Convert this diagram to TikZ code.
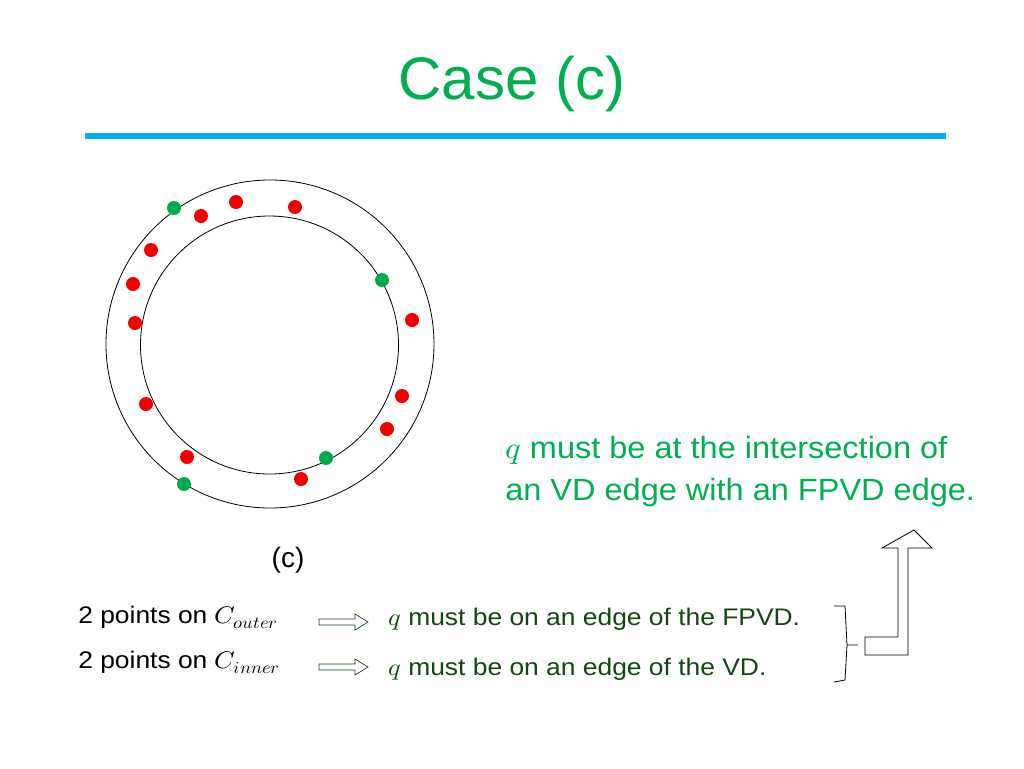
\documentclass[tikz,border=0pt]{standalone}
\usepackage{fontspec}
\setmainfont{Liberation Sans}
\usepackage{unicode-math}
\setmathfont{Latin Modern Math}
\definecolor{tgreen}{RGB}{0,176,80}
\definecolor{tblue}{RGB}{0,176,240}
\definecolor{dgreen}{RGB}{20,70,20}
\definecolor{rdot}{RGB}{240,0,0}
\definecolor{gdot}{RGB}{0,170,80}
\tikzset{rd/.style={circle,fill=rdot,inner sep=0,minimum size=10.5pt},
gd/.style={circle,fill=gdot,inner sep=0,minimum size=10.5pt},
lbl/.style={anchor=base west,inner sep=0,xscale=1.1,font=\fontsize{18}{20}\selectfont},
glbl/.style={anchor=base west,inner sep=0,text=tgreen,xscale=1.06,font=\fontsize{23}{26}\selectfont},
harrow/.style={draw=dgreen,line width=0.5pt}}
\begin{document}
\begin{tikzpicture}[x=0.75pt,y=-0.75pt]
\useasboundingbox (0,0) rectangle (1024,768);
\node[text=tgreen,font=\fontsize{45}{50}\selectfont] (title) at (512,84) {Case (c)};
\draw[tblue,line width=4pt] (85,136) coordinate (l1) -- (946,136) coordinate (l2);
\draw[line width=0.6pt] (270,344) circle[radius=164];
\draw[line width=0.6pt] (269.5,345) circle[radius=129];
\foreach \p [count=\i] in {(236,202),(295,207),(201,216),(151,250),(133,284),(135,323),(412,320),(402,396),(146,404),(387,429),(187,457),(301,479)}
  \node[rd] (r\i) at \p {};
\foreach \p [count=\i] in {(174,208),(382,280),(326,458),(184,484)}
  \node[gd] (g\i) at \p {};
\node[glbl] (t1) at (505,458) {$q$ must be at the intersection of};
\node[glbl] (t2) at (505,500) {an VD edge with an FPVD edge.};
\node[font=\fontsize{21}{24}\selectfont] (c) at (288,560) {(c)};
\node[lbl] (a1) at (78,623) {2 points on $C_{outer}$};
\node[lbl] (a2) at (78,668) {2 points on $C_{inner}$};
\node[lbl,text=dgreen] (b1) at (388,625) {$q$ must be on an edge of the FPVD.};
\node[lbl,text=dgreen] (b2) at (388,675) {$q$ must be on an edge of the VD.};
\foreach \y in {622,667}
  \draw[harrow] (319,\y-3) -- (355,\y-3) -- (355,\y-8) -- (368,\y) -- (355,\y+8) -- (355,\y+3) -- (319,\y+3) -- cycle;
\draw[line width=0.6pt] (834,606) -- (845,606) -- (847,645) -- (858,645) (847,645) -- (845,680) -- (834,682);
\draw[line width=0.6pt,fill=white] (865,637) -- (898,637) -- (898,548) -- (882,548) -- (914,530) -- (932,548) -- (908,548) -- (908,655) -- (865,655) -- cycle;
\end{tikzpicture}
\end{document}
